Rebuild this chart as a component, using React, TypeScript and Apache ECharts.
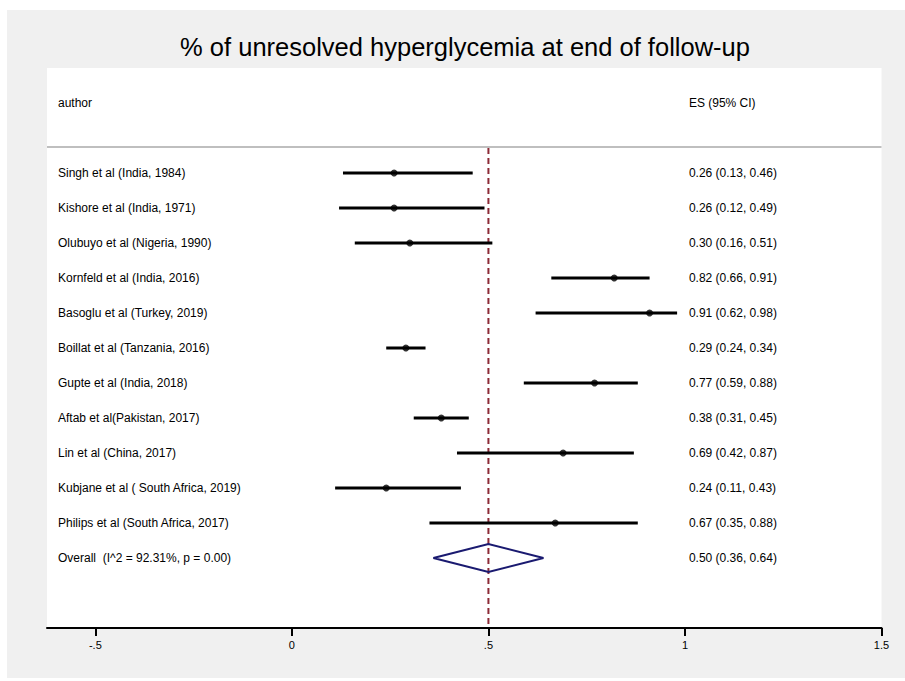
import React, { useEffect, useRef } from "react";
import * as echarts from "echarts";

const authors = [
  "Singh et al (India, 1984)",
  "Kishore et al (India, 1971)",
  "Olubuyo et al (Nigeria, 1990)",
  "Kornfeld et al (India, 2016)",
  "Basoglu et al (Turkey, 2019)",
  "Boillat et al (Tanzania, 2016)",
  "Gupte et al (India, 2018)",
  "Aftab et al(Pakistan, 2017)",
  "Lin et al (China, 2017)",
  "Kubjane et al ( South Africa, 2019)",
  "Philips et al (South Africa, 2017)",
];
const es = [0.26, 0.26, 0.3, 0.82, 0.91, 0.29, 0.77, 0.38, 0.69, 0.24, 0.67];
const lo = [0.13, 0.12, 0.16, 0.66, 0.62, 0.24, 0.59, 0.31, 0.42, 0.11, 0.35];
const hi = [0.46, 0.49, 0.51, 0.91, 0.98, 0.34, 0.88, 0.45, 0.87, 0.43, 0.88];
const overallLabel = "Overall  (I^2 = 92.31%, p = 0.00)";
const overall = { es: 0.5, lo: 0.36, hi: 0.64 };
const tickValues = [-0.5, 0, 0.5, 1, 1.5];
const titleText = "% of unresolved hyperglycemia at end of follow-up";

const FONT = "'Liberation Sans', Arial, Helvetica, sans-serif";

export default function App() {
  const ref = useRef<HTMLDivElement>(null);
  useEffect(() => {
    if (!ref.current) return;
    const chart = echarts.init(ref.current, null, { renderer: "svg" });
    const fmt = (v: number) => v.toFixed(2);
    const leftTexts = ["author", ...authors, overallLabel];
    const leftRows = [-2, ...authors.map((_, i) => i), authors.length];
    const rightTexts = [
      "ES (95% CI)",
      ...es.map((v, i) => `${fmt(v)} (${fmt(lo[i])}, ${fmt(hi[i])})`),
      `${fmt(overall.es)} (${fmt(overall.lo)}, ${fmt(overall.hi)})`,
    ];
    const oRow = authors.length;

    const textSeries = (texts: string[], xVal: number) => ({
      type: "custom",
      silent: true,
      data: leftRows.map((r) => [xVal, r]),
      encode: { x: 0, y: 1 },
      renderItem: (params: any, api: any) => {
        const p = api.coord([api.value(0), api.value(1)]);
        return {
          type: "text",
          x: p[0],
          y: p[1],
          style: {
            text: texts[params.dataIndex],
            fill: "#000",
            fontSize: 12,
            fontFamily: FONT,
            align: "left",
            verticalAlign: "middle",
          },
        };
      },
    });

    const option: any = {
      animation: false,
      backgroundColor: "#ffffff",
      graphic: [
        { type: "rect", z: -10, shape: { x: 7, y: 10, width: 898, height: 668 }, style: { fill: "#f0f0f0" } },
        { type: "rect", z: -9, shape: { x: 47, y: 68, width: 834.5, height: 560 }, style: { fill: "#ffffff" } },
        {
          type: "text",
          x: 465,
          y: 47,
          style: {
            text: titleText,
            fontSize: 25.5,
            fontFamily: FONT,
            fill: "#000",
            align: "center",
            verticalAlign: "middle",
          },
        },
        {
          type: "line",
          shape: { x1: 47, y1: 147, x2: 881.5, y2: 147 },
          style: { stroke: "#bfbfbf", lineWidth: 2 },
        },
      ],
      grid: { left: 47, top: 68, width: 834.5, height: 560, show: false },
      xAxis: {
        type: "value",
        min: -0.623,
        max: 1.5,
        splitLine: { show: false },
        axisLine: { show: true, onZero: false, lineStyle: { color: "#000", width: 2 } },
        axisTick: { show: true, length: 8, customValues: tickValues, lineStyle: { color: "#000", width: 2 } },
        axisLabel: {
          customValues: tickValues,
          margin: 11,
          fontSize: 11,
          fontFamily: FONT,
          color: "#000",
          formatter: (v: number) => (v === 0 ? "0" : String(v).replace(/^(-?)0\./, "$1.")),
        },
      },
      yAxis: { type: "value", inverse: true, min: -3, max: 13, show: false },
      series: [
        {
          type: "custom",
          silent: true,
          data: [[0.5, -0.743, 13]],
          encode: { x: 0, y: [1, 2] },
          renderItem: (_p: any, api: any) => {
            const a = api.coord([api.value(0), api.value(1)]);
            const b = api.coord([api.value(0), api.value(2)]);
            return {
              type: "line",
              shape: { x1: a[0], y1: a[1] + 1, x2: b[0], y2: b[1] },
              style: { stroke: "#8c2a36", lineWidth: 2, lineDash: [6, 4] },
            };
          },
        },
        {
          type: "custom",
          silent: true,
          data: authors.map((_, i) => [lo[i], hi[i], i]),
          encode: { x: [0, 1], y: 2 },
          renderItem: (_p: any, api: any) => {
            const a = api.coord([api.value(0), api.value(2)]);
            const b = api.coord([api.value(1), api.value(2)]);
            return {
              type: "line",
              shape: { x1: a[0], y1: a[1], x2: b[0], y2: b[1] },
              style: { stroke: "#000", lineWidth: 3 },
            };
          },
        },
        {
          type: "scatter",
          silent: true,
          symbol: "circle",
          symbolSize: 7,
          itemStyle: { color: "#000" },
          data: es.map((v, i) => [v, i]),
        },
        {
          type: "custom",
          silent: true,
          data: [[overall.lo, overall.es, overall.hi, oRow]],
          encode: { x: [0, 1, 2], y: 3 },
          renderItem: (_p: any, api: any) => {
            const r = api.value(3);
            const l = api.coord([api.value(0), r]);
            const t = api.coord([api.value(1), r - 0.4]);
            const rr = api.coord([api.value(2), r]);
            const bm = api.coord([api.value(1), r + 0.4]);
            return {
              type: "polygon",
              shape: { points: [l, t, rr, bm] },
              style: { fill: "none", stroke: "#1a1a70", lineWidth: 2 },
            };
          },
        },
        textSeries(leftTexts, -0.595),
        textSeries(rightTexts, 1.01),
      ],
    };
    chart.setOption(option);
    return () => chart.dispose();
  }, []);
  return (
    <div
      ref={ref}
      style={{ position: "fixed", left: 0, top: 0, width: 905, height: 681 }}
    />
  );
}
